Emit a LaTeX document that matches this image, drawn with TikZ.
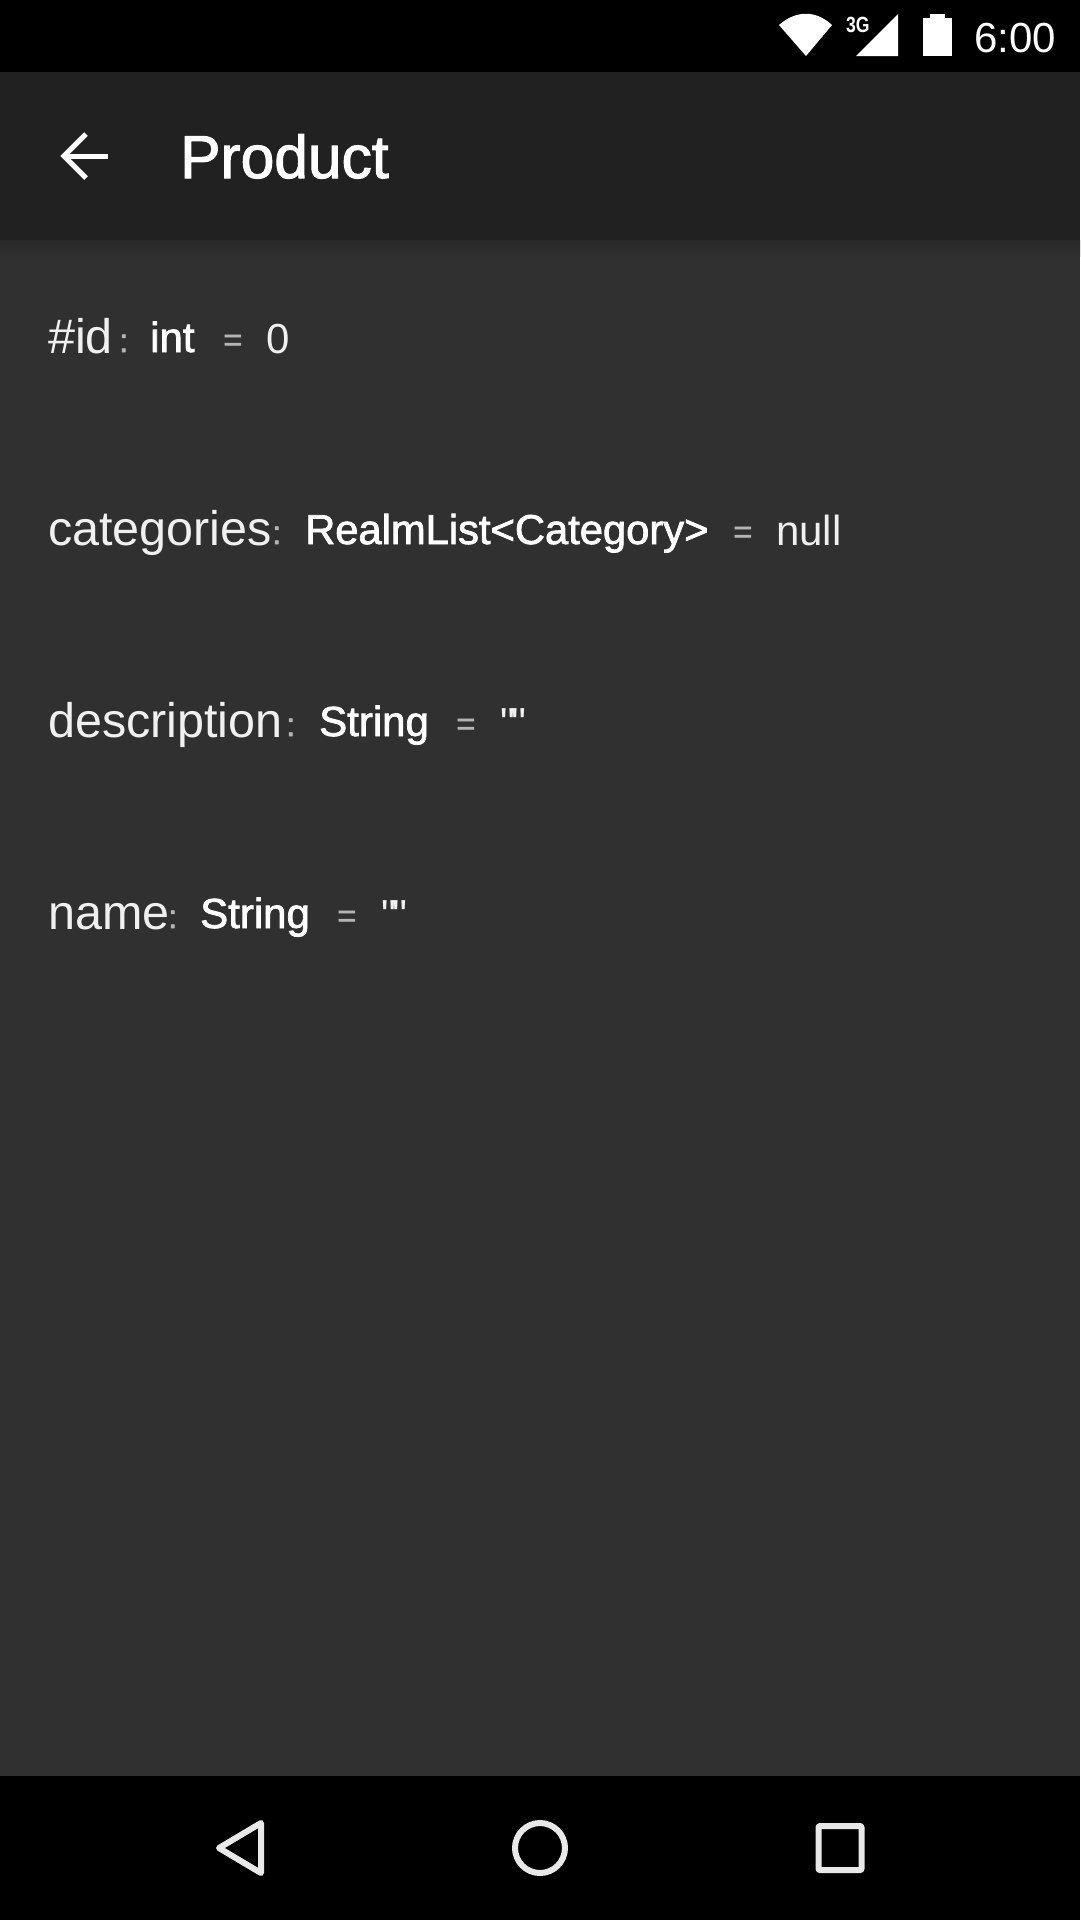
\documentclass[tikz,border=0pt]{standalone}
\usepackage{fontspec}
\setmainfont{Liberation Sans}
\newfontfamily\valuefont{Liberation Sans}
\newfontfamily\mediumfont[FakeBold=1.8]{Liberation Sans}
\newfontfamily\sepfont[FakeBold=1.6]{Liberation Sans}
\newfontfamily\narrowfont[FakeStretch=0.8]{Liberation Sans Bold}
\definecolor{barbg}{HTML}{212121}
\definecolor{bodybg}{HTML}{303030}
\definecolor{softwhite}{HTML}{F0F0F0}
\definecolor{dimwhite}{HTML}{B4B4B4}
\definecolor{navwhite}{HTML}{E8E8E8}
\tikzset{
  fieldname/.style={anchor=base west, inner sep=0, text=softwhite, font=\fontsize{48.5}{49}\selectfont},
  fieldtype/.style={anchor=base west, inner sep=0, text=white, font=\mediumfont\fontsize{42}{42}\selectfont},
  fieldsep/.style={anchor=base west, inner sep=0, text=dimwhite, font=\sepfont\fontsize{33}{33}\selectfont},
  fieldval/.style={anchor=base west, inner sep=0, text=softwhite, font=\valuefont\fontsize{42}{42}\selectfont},
  navicon/.style={draw=navwhite, line width=6pt, line join=round}
}
\begin{document}
\begin{tikzpicture}[x=1pt, y=-1pt]
    \useasboundingbox (0,0) rectangle (1080,1920);
    % bars and background
    \fill[bodybg] (0,0) rectangle (1080,1920);
    \shade[top color=black!15!bodybg, bottom color=bodybg] (0,240) rectangle (1080,256);
    \fill[black] (0,0) rectangle (1080,72);
    \fill[barbg] (0,72) rectangle (1080,240);
    \fill[black] (0,1776) rectangle (1080,1920);

    % status bar
    \fill[white] (779,25) .. controls (796,10) and (816,10) .. (832,25) -- (806,56) -- cycle;
    \fill[white] (856,56) -- (898,56) -- (898,14) -- cycle;
    \node[anchor=base west, inner sep=0, text=white, font=\narrowfont\fontsize{22}{22}\selectfont] (net) at (846,32) {3G};
    \fill[white] (930,14) rectangle (945,20);
    \fill[white] (923,18) rectangle (952,56);
    \node[anchor=base west, inner sep=0, text=white, font=\fontsize{42}{42}\selectfont] (clock) at (974,52) {6:00};

    % toolbar
    \draw[white, line width=5pt] (108,156) -- (63,156);
    \draw[white, line width=5pt, line join=miter] (86,134) -- (64,156) -- (86,178);
    \node[anchor=base west, inner sep=0, text=white, font=\mediumfont\fontsize{60.5}{61}\selectfont] (title) at (180,178) {Product};

    % fields
    \node[fieldname] (idname) at (48,353) {\#id};
    \node[fieldsep] (idcolon) at (119,352) {:};
    \node[fieldtype] (idtype) at (150,352) {int};
    \node[fieldsep] (ideq) at (223,351) {=};
    \node[fieldval] (idval) at (266,353) {0};

    \node[fieldname] (catname) at (48,545) {categories};
    \node[fieldsep] (catcolon) at (272,544) {:};
    \node[fieldtype, font=\mediumfont\fontsize{41.7}{42}\selectfont] (cattype) at (305,544) {RealmList<Category>};
    \node[fieldsep] (cateq) at (733,543) {=};
    \node[fieldval] (catval) at (776,545) {null};

    \node[fieldname] (descname) at (48,737) {description};
    \node[fieldsep] (desccolon) at (286,736) {:};
    \node[fieldtype] (desctype) at (319,736) {String};
    \node[fieldsep] (desceq) at (456,735) {=};
    \node[fieldval] (descval) at (500,737) {"\kern-4pt"};

    \node[fieldname] (namename) at (48,929) {name};
    \node[fieldsep] (namecolon) at (168,928) {:};
    \node[fieldtype] (nametype) at (200,928) {String};
    \node[fieldsep] (nameeq) at (337,927) {=};
    \node[fieldval] (nameval) at (381,929) {"\kern-4pt"};

    % navigation bar
    \draw[navicon] (261,1823) -- (261,1873) -- (219,1848) -- cycle;
    \draw[navicon] (540,1848) circle (25);
    \draw[navicon, rounded corners=1pt] (818.5,1826) rectangle (861.5,1870);
\end{tikzpicture}
\end{document}
